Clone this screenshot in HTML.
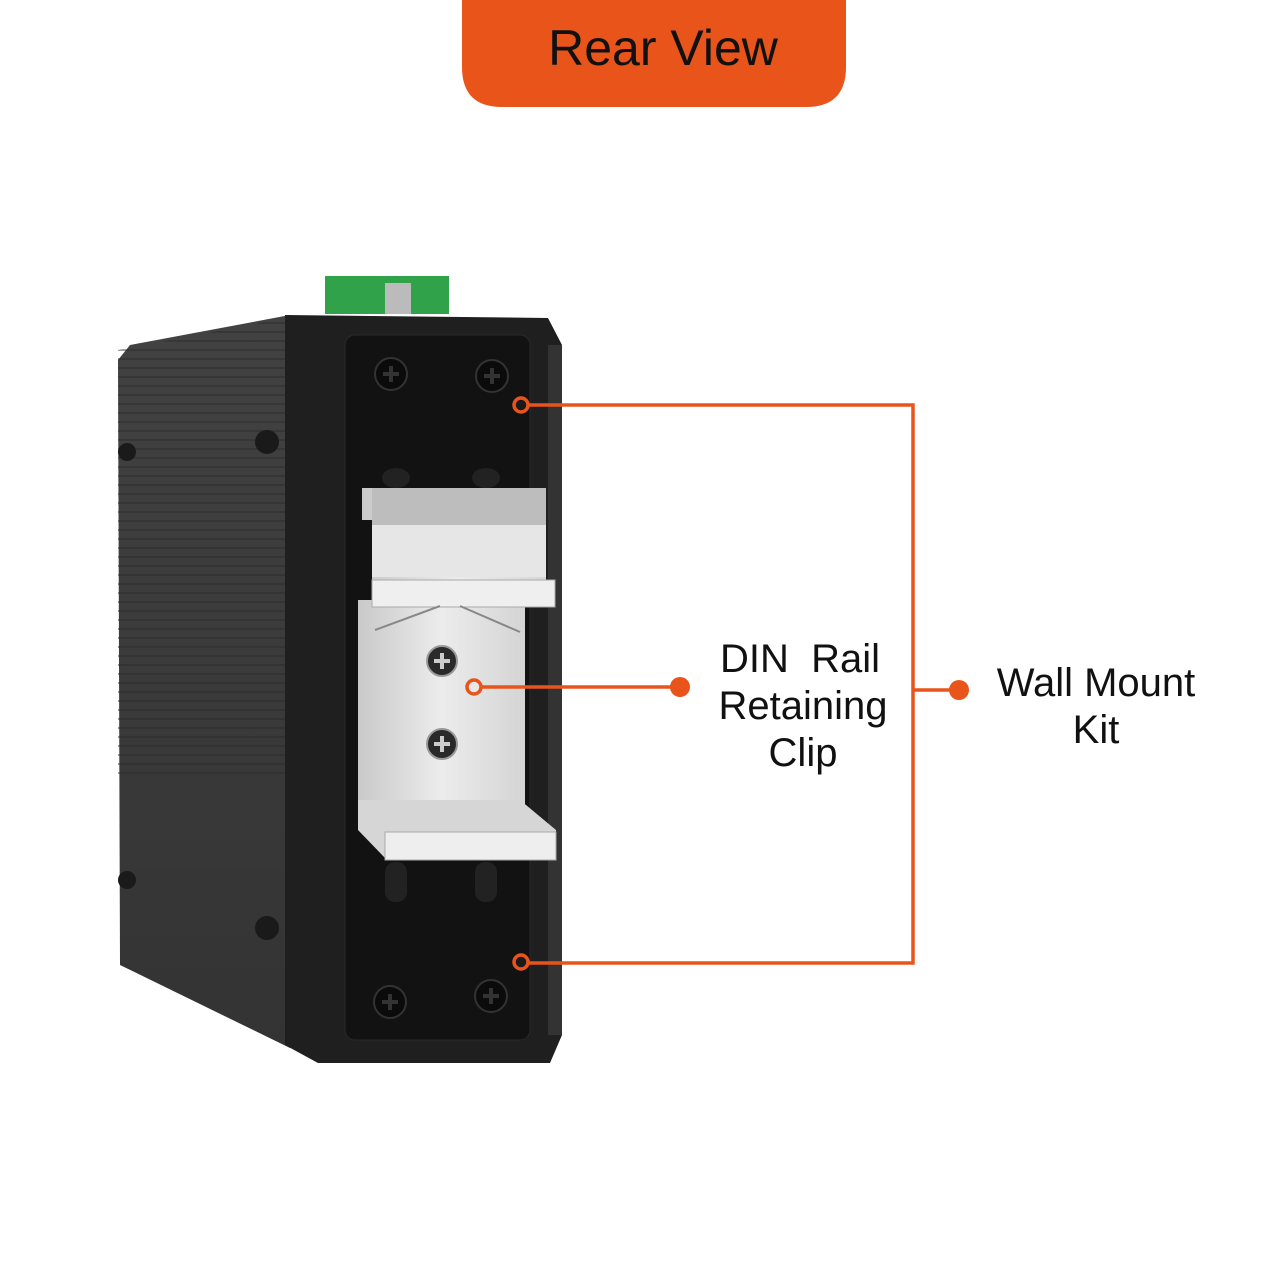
<!DOCTYPE html>
<html><head><meta charset="utf-8"><style>
body{margin:0;background:#fff;}
svg{display:block;}
text{font-family:"Liberation Sans",sans-serif;fill:#111;}
</style></head><body>
<svg width="1280" height="1280" viewBox="0 0 1280 1280" xmlns="http://www.w3.org/2000/svg">
<defs>
<linearGradient id="side" x1="0" y1="0" x2="0" y2="1">
<stop offset="0" stop-color="#424242"/><stop offset="1" stop-color="#333"/></linearGradient>
<linearGradient id="metal" x1="0" y1="0" x2="1" y2="0">
<stop offset="0" stop-color="#c9c9c9"/><stop offset="0.5" stop-color="#ececec"/><stop offset="1" stop-color="#d4d4d4"/></linearGradient>
<pattern id="ribs" width="10" height="9" patternUnits="userSpaceOnUse"><line x1="0" y1="8" x2="10" y2="8" stroke="#2a2a2a" stroke-width="1.5"/></pattern>
</defs>
<path d="M462 0 H846 V67 Q846 107 806 107 H502 Q462 107 462 67 Z" fill="#E8541A"/>
<text x="663" y="65" font-size="50" text-anchor="middle">Rear View</text>

<rect x="325" y="276" width="124" height="38" fill="#2fa24a"/>
<rect x="385" y="283" width="26" height="31" fill="#bbb"/>
<path d="M130 345 L290 315 L290 1048 L120 965 L118 360 Z" fill="url(#side)"/>
<path d="M118 350 L285 318 L285 780 L118 780 Z" fill="url(#ribs)" opacity="0.6"/>
<g fill="#1a1a1a"><circle cx="127" cy="452" r="9"/><circle cx="267" cy="442" r="12"/>
<circle cx="127" cy="880" r="9"/><circle cx="267" cy="928" r="12"/></g>
<path d="M285 315 L548 318 L562 345 L562 1035 L550 1063 L318 1063 L285 1045 Z" fill="#1f1f1f"/>
<rect x="548" y="345" width="14" height="690" fill="#333"/>
<rect x="345" y="335" width="185" height="705" rx="10" fill="#121212" stroke="#2a2a2a"/>
<g fill="#0b0b0b" stroke="#333" stroke-width="2">
<circle cx="391" cy="374" r="16"/><circle cx="492" cy="376" r="16"/>
<circle cx="390" cy="1002" r="16"/><circle cx="491" cy="996" r="16"/></g>
<g stroke="#333" stroke-width="4">
<path d="M383 374h16M391 366v16M484 376h16M492 368v16M382 1002h16M390 994v16M483 996h16M491 988v16"/></g>
<g fill="#222"><ellipse cx="396" cy="478" rx="14" ry="10"/><ellipse cx="486" cy="478" rx="14" ry="10"/>
<rect x="385" y="862" width="22" height="40" rx="10"/><rect x="475" y="862" width="22" height="40" rx="10"/></g>
<rect x="358" y="600" width="167" height="205" fill="url(#metal)"/>
<path d="M362 488 H546 V580 H555 V607 H372 V520 H362 Z" fill="url(#metal)"/>
<rect x="372" y="488" width="174" height="38" fill="#bdbdbd"/>
<rect x="372" y="525" width="174" height="52" fill="#e6e6e6"/>
<rect x="372" y="580" width="183" height="27" fill="#efefef" stroke="#aaa"/>
<path d="M375 630 L440 606 M460 606 L520 632" stroke="#888" stroke-width="2" fill="none"/>
<path d="M358 800 H520 L556 830 V858 H385 L358 830 Z" fill="#d6d6d6"/>
<rect x="385" y="832" width="171" height="28" fill="#eeeeee" stroke="#aaa"/>
<g fill="#2a2a2a" stroke="#999" stroke-width="2"><circle cx="442" cy="661" r="15"/><circle cx="442" cy="744" r="15"/></g>
<g stroke="#ccc" stroke-width="4"><path d="M434 661h16M442 653v16M434 744h16M442 736v16"/></g>
<g stroke="#E8541A" stroke-width="3.5" fill="none">
<path d="M521 405 H913 V963 H521"/>
<path d="M913 690 H959"/>
<path d="M474 687 H680"/>
</g>
<g stroke="#E8541A" stroke-width="3.5" fill="#1a1a1a"><circle cx="521" cy="405" r="7"/><circle cx="521" cy="962" r="7"/></g>
<circle cx="474" cy="687" r="7" fill="#e8e8e8" stroke="#E8541A" stroke-width="3.5"/>
<circle cx="680" cy="687" r="10" fill="#E8541A"/><circle cx="959" cy="690" r="10" fill="#E8541A"/>
<g font-size="40" text-anchor="middle">
<text x="800" y="672" xml:space="preserve">DIN  Rail</text>
<text x="803" y="719">Retaining</text>
<text x="803" y="766">Clip</text>
<text x="1096" y="696">Wall Mount</text>
<text x="1096" y="743">Kit</text>
</g>
</svg>
</body></html>
